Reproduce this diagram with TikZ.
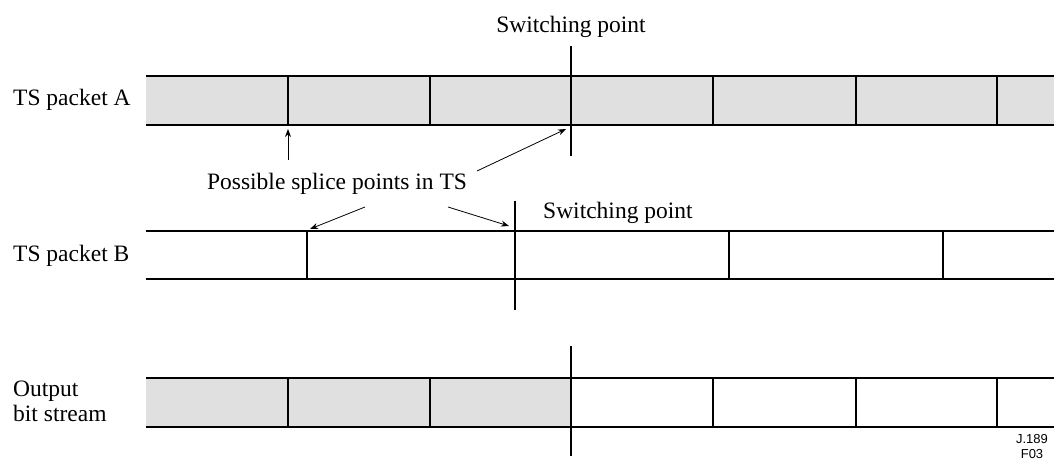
\documentclass[tikz,border=0pt]{standalone}
\usepackage{fontspec}
\setmainfont{Liberation Serif}
\newfontfamily\figsans{Liberation Sans}
\usetikzlibrary{arrows.meta}
\definecolor{packetgray}{HTML}{E0E0E0}
\tikzset{
  lane/.style={line width=1.8pt},
  divider/.style={line width=1.6pt},
  switchline/.style={line width=2.6pt},
  pointer/.style={line width=0.8pt, -{Stealth[length=8pt,width=6pt]}},
  lbl/.style={inner sep=0pt, font=\fontsize{23.5}{25}\selectfont},
}
\begin{document}
\begin{tikzpicture}[x=1pt, y=-1pt]
\useasboundingbox (0,0) rectangle (1055,465);

% ---- TS packet A (shaded throughout) ----
\fill[packetgray] (146,76) rectangle (1054,125);
\draw[lane] (146,76) -- (1054,76) (146,125) -- (1054,125);
\foreach \x in {288,430,713,856,997} \draw[divider] (\x,76) -- (\x,125);
\draw[switchline] (571,46) -- (571,156);

% ---- TS packet B ----
\draw[lane] (146,231) -- (1054,231) (146,279) -- (1054,279);
\foreach \x in {307,729,943} \draw[divider] (\x,231) -- (\x,279);
\draw[switchline] (515,201) -- (515,310);

% ---- Output bit stream (A before the switch, B after) ----
\fill[packetgray] (146,378) rectangle (571,427);
\draw[lane] (146,378) -- (1054,378) (146,427) -- (1054,427);
\foreach \x in {288,430,713,856,997} \draw[divider] (\x,378) -- (\x,427);
\draw[switchline] (571,346) -- (571,456);

% ---- labels ----
\node[lbl, anchor=west] (tsa) at (13,100) {TS packet A};
\node[lbl, anchor=west] (tsb) at (13,256) {TS packet B};
\node[lbl, anchor=west, align=left] (out) at (13,401) {Output\\bit stream};
\node[lbl] (swa) at (571,27) {Switching point};
\node[lbl, anchor=west] (swb) at (543,213) {Switching point};
\node[lbl] (splice) at (337,184) {Possible splice points in TS};
\node[inner sep=0pt, anchor=north, align=center, font=\figsans\fontsize{13}{15.5}\selectfont] (ref) at (1032,434) {J.189\\F03};

% ---- splice point markers ----
\coordinate (spA1) at (288,129);
\coordinate (spA2) at (566,129);
\coordinate (spB1) at (310,229);
\coordinate (spB2) at (509,226);

\draw[pointer] (288,160) -- (spA1);
\draw[pointer] (477,171) -- (spA2);
\draw[pointer] (365,207) -- (spB1);
\draw[pointer] (448,207) -- (spB2);
\end{tikzpicture}
\end{document}
